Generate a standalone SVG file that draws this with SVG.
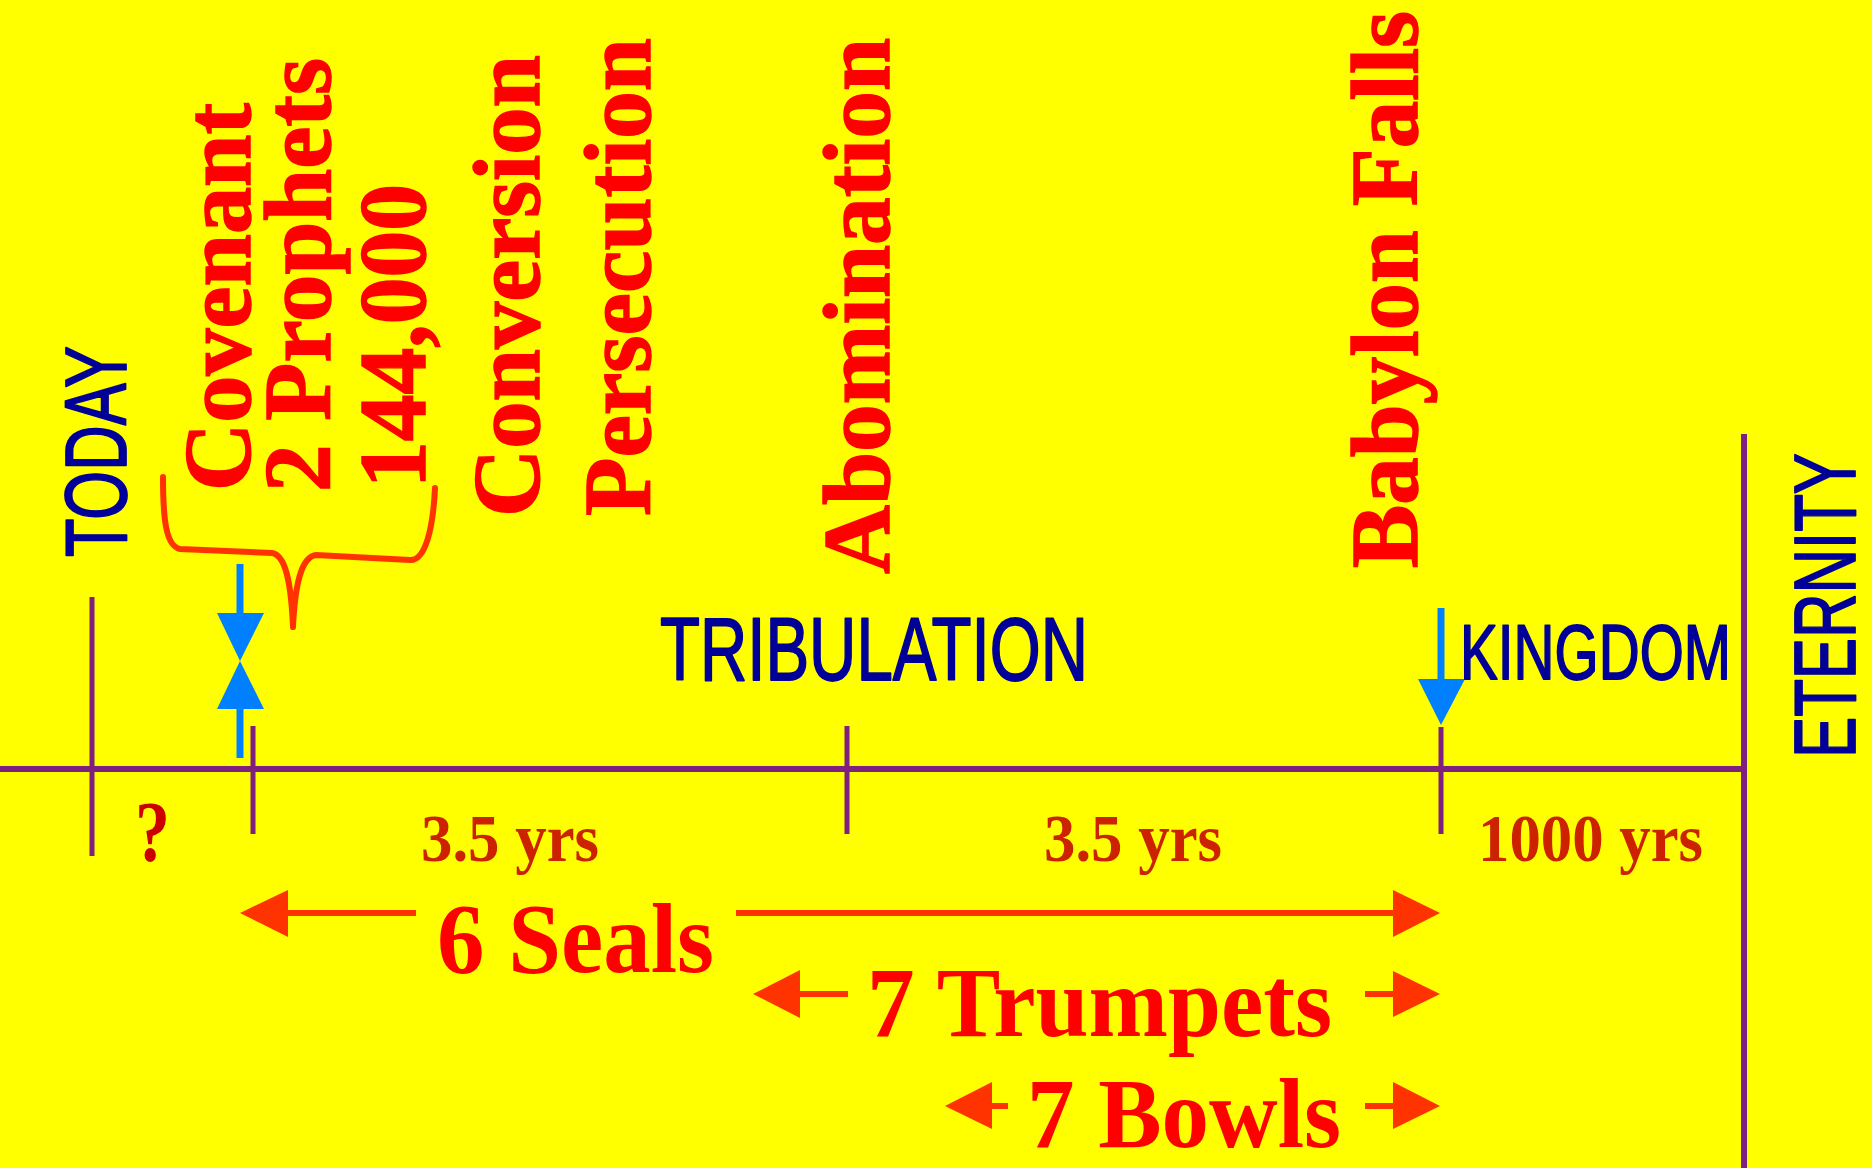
<svg xmlns="http://www.w3.org/2000/svg" width="1872" height="1168" viewBox="0 0 1872 1168">
<style>
.axis{stroke:#7f1f7f;stroke-width:6;fill:none}
.tick{stroke:#7f1f7f;stroke-width:5;fill:none}
.blue{fill:#000099;stroke:#000099;stroke-width:1.8;stroke-linejoin:round;font-family:"Liberation Sans",Arial,sans-serif}
.ev{fill:#ff0000;stroke:#ff0000;stroke-width:1.5;font-family:"Liberation Serif","Times New Roman",serif;font-weight:bold;font-size:96px}
.yrs{fill:#cc2200;font-family:"Liberation Serif","Times New Roman",serif;font-weight:bold;font-size:68px}
.q{fill:#cc0000;font-family:"Liberation Serif","Times New Roman",serif;font-weight:bold;font-size:86px}
.big{fill:#ff0000;font-family:"Liberation Serif","Times New Roman",serif;font-weight:bold;font-size:100px}
.rline{stroke:#ff3300;stroke-width:6;fill:none}
.rhead{fill:#ff3300}
.bline{stroke:#0080ff;stroke-width:7;fill:none}
.bhead{fill:#0080ff}
</style>
<rect width="1872" height="1168" fill="#ffff00"/>
<g id="connectors">
  <line class="axis" x1="0" y1="769" x2="1744" y2="769"/>
  <line class="axis" x1="1744" y1="434" x2="1744" y2="1168"/>
  <line class="tick" x1="92" y1="597" x2="92" y2="856"/>
  <line class="tick" x1="253" y1="726" x2="253" y2="834"/>
  <line class="tick" x1="847" y1="726" x2="847" y2="834"/>
  <line class="tick" x1="1441" y1="727" x2="1441" y2="834"/>
  <path d="M163 477 C163 520 166 546 180 549 L272 553 C285 555 291 580 293 627 C295 585 301 557 316 555 L410 560 C425 561 433 530 435 488" stroke="#ff3300" stroke-width="6" fill="none" stroke-linejoin="round" stroke-linecap="round"/>
  <line class="bline" x1="240" y1="564" x2="240" y2="614"/>
  <polygon class="bhead" points="217,613 264,613 240,661"/>
  <polygon class="bhead" points="217,709 264,709 240,661"/>
  <line class="bline" x1="240" y1="708" x2="240" y2="758"/>
  <line class="bline" x1="1441" y1="608" x2="1441" y2="680"/>
  <polygon class="bhead" points="1418,679 1465,679 1441,725"/>
  <line class="rline" x1="287" y1="913" x2="416" y2="913"/>
  <polygon class="rhead" points="240,913 288,890 288,937"/>
  <line class="rline" x1="736" y1="913" x2="1394" y2="913"/>
  <polygon class="rhead" points="1393,890 1393,937 1440,913"/>
  <line class="rline" x1="799" y1="994" x2="848" y2="994"/>
  <polygon class="rhead" points="753,994 800,970 800,1018"/>
  <line class="rline" x1="1365" y1="994" x2="1394" y2="994"/>
  <polygon class="rhead" points="1393,971 1393,1017 1440,994"/>
  <line class="rline" x1="991" y1="1106" x2="1008" y2="1106"/>
  <polygon class="rhead" points="945,1106 992,1082 992,1129"/>
  <line class="rline" x1="1365" y1="1106" x2="1394" y2="1106"/>
  <polygon class="rhead" points="1393,1082 1393,1129 1440,1106"/>
</g>
<g id="today"><text class="blue" font-size="87" transform="translate(126,557) rotate(-90)" textLength="211" lengthAdjust="spacingAndGlyphs">TODAY</text></g>
<g id="eternity"><text class="blue" font-size="87" transform="translate(1855,758) rotate(-90)" textLength="305" lengthAdjust="spacingAndGlyphs">ETERNITY</text></g>
<g id="tribulation"><text class="blue" font-size="89" x="660" y="680" textLength="428" lengthAdjust="spacingAndGlyphs">TRIBULATION</text></g>
<g id="kingdom"><text class="blue" font-size="77" x="1460" y="679" textLength="271" lengthAdjust="spacingAndGlyphs">KINGDOM</text></g>
<g id="covenant"><text class="ev" transform="translate(250,491) rotate(-90)" textLength="388" lengthAdjust="spacingAndGlyphs">Covenant</text></g>
<g id="prophets"><text class="ev" transform="translate(330,492) rotate(-90)" textLength="434" lengthAdjust="spacingAndGlyphs">2 Prophets</text></g>
<g id="n144000"><text class="ev" transform="translate(425,488) rotate(-90)" textLength="304" lengthAdjust="spacingAndGlyphs">144,000</text></g>
<g id="conversion"><text class="ev" transform="translate(539,517) rotate(-90)" textLength="462" lengthAdjust="spacingAndGlyphs">Conversion</text></g>
<g id="persecution"><text class="ev" transform="translate(650,516) rotate(-90)" textLength="478" lengthAdjust="spacingAndGlyphs">Persecution</text></g>
<g id="abomination"><text class="ev" transform="translate(889,574) rotate(-90)" textLength="536" lengthAdjust="spacingAndGlyphs">Abomination</text></g>
<g id="babylon"><text class="ev" transform="translate(1417,568) rotate(-90)" textLength="557" lengthAdjust="spacingAndGlyphs">Babylon Falls</text></g>
<g id="question"><text class="q" x="135" y="861" textLength="35" lengthAdjust="spacingAndGlyphs">?</text></g>
<g id="yrs1"><text class="yrs" x="421" y="861" textLength="178" lengthAdjust="spacingAndGlyphs">3.5 yrs</text></g>
<g id="yrs2"><text class="yrs" x="1044" y="861" textLength="178" lengthAdjust="spacingAndGlyphs">3.5 yrs</text></g>
<g id="yrs3"><text class="yrs" x="1478" y="861" textLength="225" lengthAdjust="spacingAndGlyphs">1000 yrs</text></g>
<g id="seals"><text class="big" x="437" y="972" textLength="277" lengthAdjust="spacingAndGlyphs">6 Seals</text></g>
<g id="trumpets"><text class="big" x="867" y="1036" textLength="465" lengthAdjust="spacingAndGlyphs">7 Trumpets</text></g>
<g id="bowls"><text class="big" x="1027" y="1147" textLength="314" lengthAdjust="spacingAndGlyphs">7 Bowls</text></g>
</svg>
